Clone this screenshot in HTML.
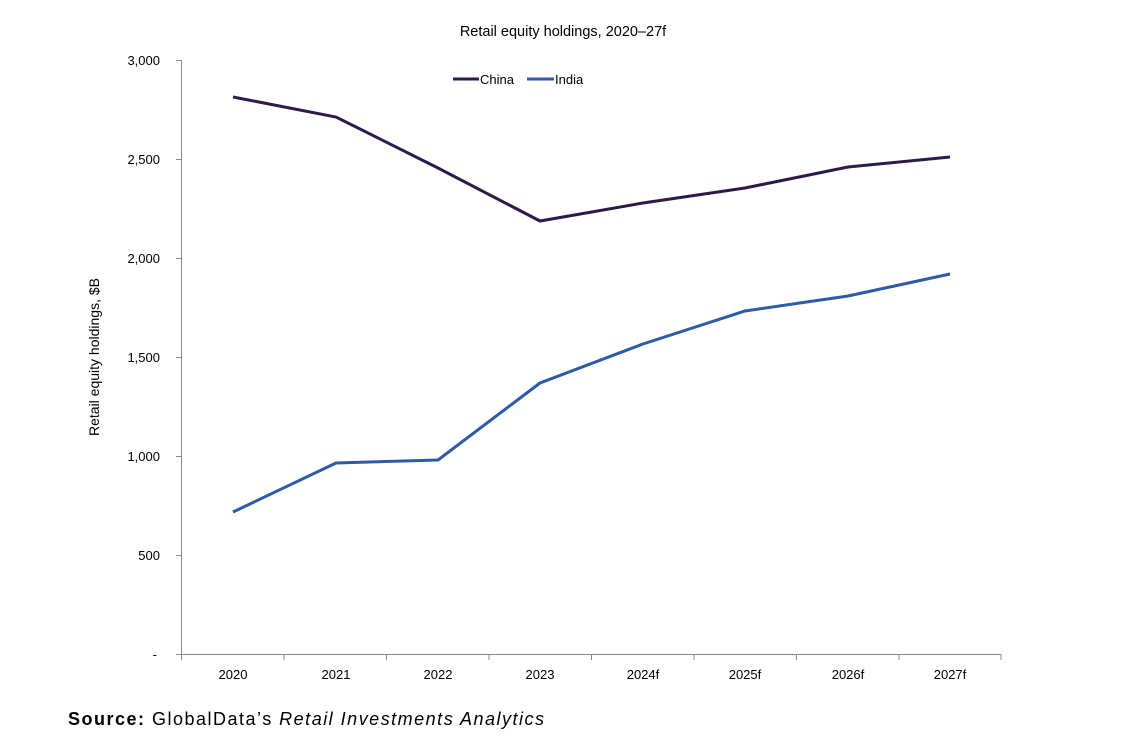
<!DOCTYPE html>
<html><head><meta charset="utf-8"><style>
body{margin:0;background:#fff;}
svg text{font-family:"Liberation Sans",sans-serif;fill:#000;}
</style></head><body>
<svg width="1127" height="746" viewBox="0 0 1127 746" xmlns="http://www.w3.org/2000/svg">
<text x="563" y="36" font-size="14.5" text-anchor="middle">Retail equity holdings, 2020–27f</text>
<g stroke="#888" stroke-width="1" fill="none">
<line x1="181.5" y1="60" x2="181.5" y2="654"/>
<line x1="176" y1="654.5" x2="1001" y2="654.5"/>
<line x1="176" y1="60.5" x2="181" y2="60.5"/>
<line x1="176" y1="159.5" x2="181" y2="159.5"/>
<line x1="176" y1="258.5" x2="181" y2="258.5"/>
<line x1="176" y1="357.5" x2="181" y2="357.5"/>
<line x1="176" y1="456.5" x2="181" y2="456.5"/>
<line x1="176" y1="555.5" x2="181" y2="555.5"/>
<path d="M181.5 654v6M284 654v6M386.5 654v6M489 654v6M591.5 654v6M694 654v6M796.5 654v6M899 654v6M1001 654v6"/>
</g>
<g font-size="13" text-anchor="end">
<text x="160" y="65">3,000</text>
<text x="160" y="164">2,500</text>
<text x="160" y="263">2,000</text>
<text x="160" y="362">1,500</text>
<text x="160" y="461">1,000</text>
<text x="160" y="560">500</text>
<text x="157" y="659">-</text>
</g>
<g font-size="13" text-anchor="middle">
<text x="233" y="679">2020</text><text x="336" y="679">2021</text><text x="438" y="679">2022</text><text x="540" y="679">2023</text>
<text x="643" y="679">2024f</text><text x="745" y="679">2025f</text><text x="848" y="679">2026f</text><text x="950" y="679">2027f</text>
</g>
<text transform="translate(99,357) rotate(-90)" font-size="14" text-anchor="middle">Retail equity holdings, $B</text>
<polyline fill="none" stroke="#2e1a47" stroke-width="3" points="233,97 336,117 438,168 540,221 643,203 745,188 848,167 950,157"/>
<polyline fill="none" stroke="#2e5aa8" stroke-width="3" points="233,512 336,463 438,460 540,383 643,344 745,311 848,296 950,274"/>
<line x1="453" y1="79" x2="479" y2="79" stroke="#2e1a47" stroke-width="3"/>
<text x="480" y="84" font-size="13">China</text>
<line x1="527" y1="79" x2="554" y2="79" stroke="#2e5aa8" stroke-width="3"/>
<text x="555" y="84" font-size="13">India</text>
<text x="68" y="725" font-size="18" textLength="476" lengthAdjust="spacing"><tspan font-weight="bold">Source:</tspan> GlobalData’s <tspan font-style="italic">Retail Investments Analytics</tspan></text>
</svg>
</body></html>
